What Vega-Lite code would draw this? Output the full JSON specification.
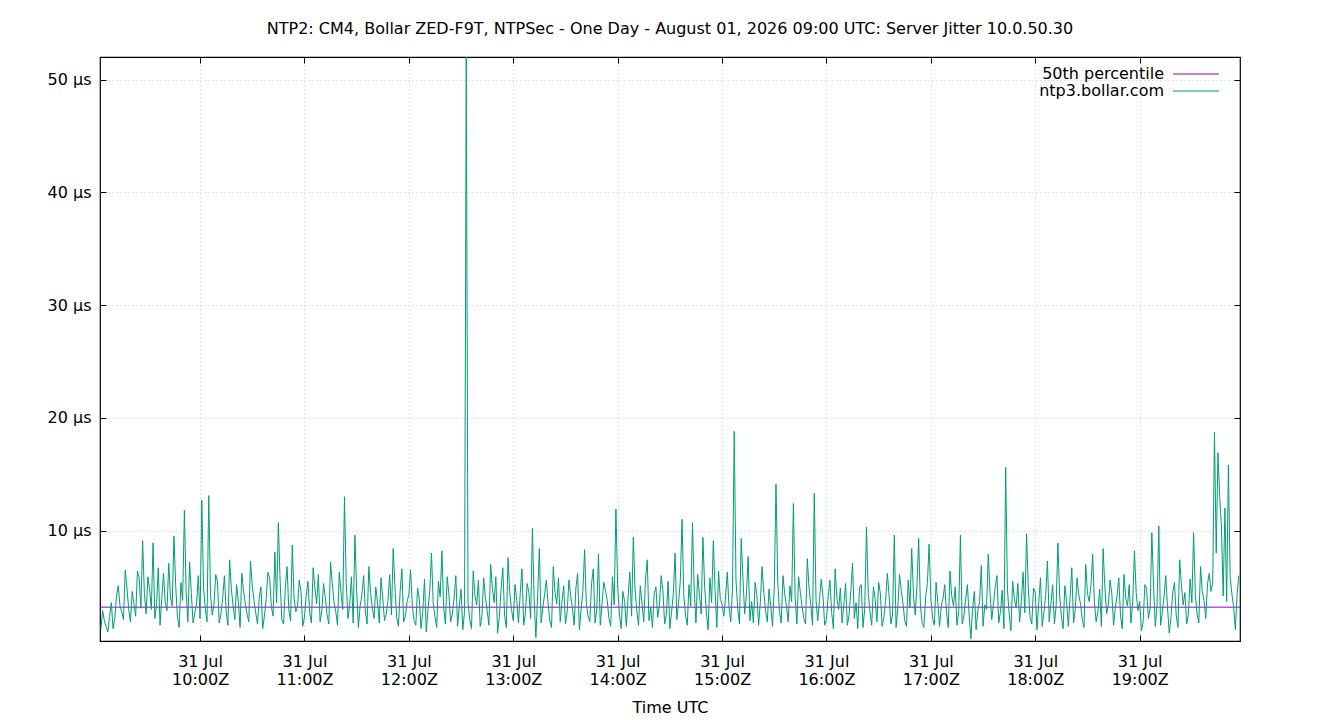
{
  "$schema": "https://vega.github.io/schema/vega-lite/v6.json",
  "autosize": {"type": "none"},
  "width": 1140,
  "height": 584,
  "padding": {"left": 100, "top": 57, "right": 100, "bottom": 79},
  "background": "white",
  "title": {
    "text": "NTP2: CM4, Bollar ZED-F9T, NTPSec - One Day - August 01, 2026 09:00 UTC: Server Jitter 10.0.50.30",
    "fontSize": 16, "fontWeight": "normal", "font": "DejaVu Sans", "color": "black",
    "anchor": "middle", "baseline": "alphabetic", "offset": 4
  },
  "config": {
    "font": "DejaVu Sans",
    "view": {"stroke": "black", "strokeWidth": 1.2},
    "axis": {
      "domain": false,
      "labelFontSize": 16, "labelColor": "black", "labelFont": "DejaVu Sans",
      "titleFontSize": 16, "titleColor": "black", "titleFont": "DejaVu Sans", "titleFontWeight": "normal",
      "tickColor": "black", "tickSize": -6, "tickWidth": 1,
      "gridColor": "#c4c4c4", "gridDash": [1, 3], "gridWidth": 1
    },
    "legend": {"labelFontSize": 16, "labelColor": "black", "labelFont": "DejaVu Sans"}
  },
  "datasets": {
    "median": [{"v": 3.2}],
    "jitter": [
      {"t":"2026-07-31T09:03","v":1.2},{"t":"2026-07-31T09:05","v":2.0},{"t":"2026-07-31T09:07","v":1.0},{"t":"2026-07-31T09:09","v":3.6},{"t":"2026-07-31T09:11","v":2.2},
      {"t":"2026-07-31T09:13","v":5.1},{"t":"2026-07-31T09:15","v":2.8},{"t":"2026-07-31T09:17","v":6.5},{"t":"2026-07-31T09:19","v":3.0},{"t":"2026-07-31T09:21","v":4.6},
      {"t":"2026-07-31T09:23","v":2.4},{"t":"2026-07-31T09:25","v":5.8},{"t":"2026-07-31T09:27","v":9.1},{"t":"2026-07-31T09:29","v":2.6},{"t":"2026-07-31T09:31","v":4.8},
      {"t":"2026-07-31T09:33","v":8.9},{"t":"2026-07-31T09:35","v":3.4},{"t":"2026-07-31T09:37","v":1.6},{"t":"2026-07-31T09:39","v":6.2},{"t":"2026-07-31T09:41","v":2.9},
      {"t":"2026-07-31T09:43","v":4.1},{"t":"2026-07-31T09:45","v":9.5},{"t":"2026-07-31T09:47","v":2.3},{"t":"2026-07-31T09:49","v":5.4},{"t":"2026-07-31T09:51","v":11.8},
      {"t":"2026-07-31T09:53","v":1.9},{"t":"2026-07-31T09:55","v":4.4},{"t":"2026-07-31T09:57","v":2.7},{"t":"2026-07-31T09:59","v":6.0},{"t":"2026-07-31T10:01","v":12.7},
      {"t":"2026-07-31T10:03","v":3.1},{"t":"2026-07-31T10:05","v":13.1},{"t":"2026-07-31T10:07","v":2.5},{"t":"2026-07-31T10:09","v":6.1},{"t":"2026-07-31T10:11","v":1.8},
      {"t":"2026-07-31T10:13","v":4.0},{"t":"2026-07-31T10:15","v":2.9},{"t":"2026-07-31T10:17","v":7.4},{"t":"2026-07-31T10:19","v":3.3},{"t":"2026-07-31T10:21","v":5.2},
      {"t":"2026-07-31T10:23","v":1.4},{"t":"2026-07-31T10:25","v":4.7},{"t":"2026-07-31T10:27","v":2.6},{"t":"2026-07-31T10:29","v":7.3},{"t":"2026-07-31T10:31","v":3.8},
      {"t":"2026-07-31T10:33","v":1.7},{"t":"2026-07-31T10:35","v":5.0},{"t":"2026-07-31T10:37","v":2.4},{"t":"2026-07-31T10:39","v":6.3},{"t":"2026-07-31T10:41","v":3.2},
      {"t":"2026-07-31T10:43","v":8.1},{"t":"2026-07-31T10:45","v":10.7},{"t":"2026-07-31T10:47","v":2.1},{"t":"2026-07-31T10:49","v":4.9},{"t":"2026-07-31T10:51","v":3.0},
      {"t":"2026-07-31T10:53","v":8.7},{"t":"2026-07-31T10:55","v":2.8},{"t":"2026-07-31T10:57","v":5.6},{"t":"2026-07-31T10:59","v":1.5},{"t":"2026-07-31T11:01","v":4.2},
      {"t":"2026-07-31T11:03","v":2.7},{"t":"2026-07-31T11:05","v":6.7},{"t":"2026-07-31T11:07","v":3.5},{"t":"2026-07-31T11:09","v":1.9},{"t":"2026-07-31T11:11","v":5.3},
      {"t":"2026-07-31T11:13","v":2.5},{"t":"2026-07-31T11:15","v":7.2},{"t":"2026-07-31T11:17","v":3.6},{"t":"2026-07-31T11:19","v":1.6},{"t":"2026-07-31T11:21","v":4.5},
      {"t":"2026-07-31T11:23","v":13.0},{"t":"2026-07-31T11:25","v":2.2},{"t":"2026-07-31T11:27","v":5.9},{"t":"2026-07-31T11:29","v":9.6},{"t":"2026-07-31T11:31","v":1.4},
      {"t":"2026-07-31T11:33","v":4.3},{"t":"2026-07-31T11:35","v":2.8},{"t":"2026-07-31T11:37","v":6.8},{"t":"2026-07-31T11:39","v":3.1},{"t":"2026-07-31T11:41","v":5.0},
      {"t":"2026-07-31T11:43","v":1.8},{"t":"2026-07-31T11:45","v":4.0},{"t":"2026-07-31T11:47","v":2.6},{"t":"2026-07-31T11:49","v":6.1},{"t":"2026-07-31T11:51","v":8.4},
      {"t":"2026-07-31T11:53","v":2.3},{"t":"2026-07-31T11:55","v":4.6},{"t":"2026-07-31T11:57","v":1.9},{"t":"2026-07-31T11:59","v":3.7},{"t":"2026-07-31T12:01","v":6.5},
      {"t":"2026-07-31T12:03","v":2.0},{"t":"2026-07-31T12:05","v":4.9},{"t":"2026-07-31T12:07","v":1.3},{"t":"2026-07-31T12:09","v":5.7},{"t":"2026-07-31T12:11","v":3.0},
      {"t":"2026-07-31T12:13","v":8.0},{"t":"2026-07-31T12:15","v":2.4},{"t":"2026-07-31T12:17","v":5.5},{"t":"2026-07-31T12:19","v":8.2},{"t":"2026-07-31T12:21","v":1.7},
      {"t":"2026-07-31T12:23","v":4.4},{"t":"2026-07-31T12:25","v":2.6},{"t":"2026-07-31T12:27","v":6.0},{"t":"2026-07-31T12:29","v":3.3},{"t":"2026-07-31T12:31","v":1.2},
      {"t":"2026-07-31T12:33","v":52.0},{"t":"2026-07-31T12:35","v":2.1},{"t":"2026-07-31T12:37","v":6.4},{"t":"2026-07-31T12:39","v":3.4},{"t":"2026-07-31T12:41","v":1.5},
      {"t":"2026-07-31T12:43","v":5.8},{"t":"2026-07-31T12:45","v":2.9},{"t":"2026-07-31T12:47","v":7.0},{"t":"2026-07-31T12:49","v":3.6},{"t":"2026-07-31T12:51","v":0.9},
      {"t":"2026-07-31T12:53","v":4.8},{"t":"2026-07-31T12:55","v":2.5},{"t":"2026-07-31T12:57","v":7.6},{"t":"2026-07-31T12:59","v":3.0},{"t":"2026-07-31T13:01","v":5.2},
      {"t":"2026-07-31T13:03","v":1.8},{"t":"2026-07-31T13:05","v":6.6},{"t":"2026-07-31T13:07","v":2.7},{"t":"2026-07-31T13:09","v":4.5},{"t":"2026-07-31T13:11","v":10.2},
      {"t":"2026-07-31T13:13","v":0.5},{"t":"2026-07-31T13:15","v":8.4},{"t":"2026-07-31T13:17","v":3.2},{"t":"2026-07-31T13:19","v":5.6},{"t":"2026-07-31T13:21","v":2.0},
      {"t":"2026-07-31T13:23","v":6.8},{"t":"2026-07-31T13:25","v":3.5},{"t":"2026-07-31T13:27","v":1.9},{"t":"2026-07-31T13:29","v":5.1},{"t":"2026-07-31T13:31","v":2.8},
      {"t":"2026-07-31T13:33","v":4.2},{"t":"2026-07-31T13:35","v":1.6},{"t":"2026-07-31T13:37","v":6.2},{"t":"2026-07-31T13:39","v":3.0},{"t":"2026-07-31T13:41","v":8.3},
      {"t":"2026-07-31T13:43","v":2.4},{"t":"2026-07-31T13:45","v":5.3},{"t":"2026-07-31T13:47","v":1.8},{"t":"2026-07-31T13:49","v":7.9},{"t":"2026-07-31T13:51","v":3.4},
      {"t":"2026-07-31T13:53","v":4.7},{"t":"2026-07-31T13:55","v":2.2},{"t":"2026-07-31T13:57","v":5.9},{"t":"2026-07-31T13:59","v":11.9},{"t":"2026-07-31T14:01","v":2.6},
      {"t":"2026-07-31T14:03","v":4.6},{"t":"2026-07-31T14:05","v":1.5},{"t":"2026-07-31T14:07","v":6.3},{"t":"2026-07-31T14:09","v":9.4},{"t":"2026-07-31T14:11","v":2.9},
      {"t":"2026-07-31T14:13","v":5.1},{"t":"2026-07-31T14:15","v":1.9},{"t":"2026-07-31T14:17","v":7.4},{"t":"2026-07-31T14:19","v":3.2},{"t":"2026-07-31T14:21","v":4.4},
      {"t":"2026-07-31T14:23","v":2.3},{"t":"2026-07-31T14:25","v":6.0},{"t":"2026-07-31T14:27","v":1.7},{"t":"2026-07-31T14:29","v":5.5},{"t":"2026-07-31T14:31","v":2.8},
      {"t":"2026-07-31T14:33","v":8.0},{"t":"2026-07-31T14:35","v":3.6},{"t":"2026-07-31T14:37","v":11.0},{"t":"2026-07-31T14:39","v":2.5},{"t":"2026-07-31T14:41","v":5.2},
      {"t":"2026-07-31T14:43","v":10.7},{"t":"2026-07-31T14:45","v":1.8},{"t":"2026-07-31T14:47","v":4.3},{"t":"2026-07-31T14:49","v":9.4},{"t":"2026-07-31T14:51","v":2.7},
      {"t":"2026-07-31T14:53","v":5.8},{"t":"2026-07-31T14:55","v":9.1},{"t":"2026-07-31T14:57","v":1.4},{"t":"2026-07-31T14:59","v":3.9},{"t":"2026-07-31T15:01","v":2.4},
      {"t":"2026-07-31T15:03","v":6.3},{"t":"2026-07-31T15:05","v":1.9},{"t":"2026-07-31T15:07","v":18.8},{"t":"2026-07-31T15:09","v":3.1},{"t":"2026-07-31T15:11","v":9.3},
      {"t":"2026-07-31T15:13","v":2.6},{"t":"2026-07-31T15:15","v":7.7},{"t":"2026-07-31T15:17","v":3.7},{"t":"2026-07-31T15:19","v":5.4},{"t":"2026-07-31T15:21","v":1.6},
      {"t":"2026-07-31T15:23","v":6.8},{"t":"2026-07-31T15:25","v":2.9},{"t":"2026-07-31T15:27","v":4.8},{"t":"2026-07-31T15:29","v":1.5},{"t":"2026-07-31T15:31","v":14.1},
      {"t":"2026-07-31T15:33","v":2.8},{"t":"2026-07-31T15:35","v":6.0},{"t":"2026-07-31T15:37","v":3.3},{"t":"2026-07-31T15:39","v":5.1},{"t":"2026-07-31T15:41","v":12.4},
      {"t":"2026-07-31T15:43","v":1.7},{"t":"2026-07-31T15:45","v":4.5},{"t":"2026-07-31T15:47","v":2.2},{"t":"2026-07-31T15:49","v":7.5},{"t":"2026-07-31T15:51","v":3.4},
      {"t":"2026-07-31T15:53","v":13.3},{"t":"2026-07-31T15:55","v":2.0},{"t":"2026-07-31T15:57","v":5.7},{"t":"2026-07-31T15:59","v":1.6},{"t":"2026-07-31T16:01","v":4.2},
      {"t":"2026-07-31T16:03","v":2.7},{"t":"2026-07-31T16:05","v":6.6},{"t":"2026-07-31T16:07","v":3.0},{"t":"2026-07-31T16:09","v":1.8},{"t":"2026-07-31T16:11","v":5.3},
      {"t":"2026-07-31T16:13","v":2.5},{"t":"2026-07-31T16:15","v":7.1},{"t":"2026-07-31T16:17","v":3.6},{"t":"2026-07-31T16:19","v":4.9},{"t":"2026-07-31T16:21","v":1.4},
      {"t":"2026-07-31T16:23","v":10.3},{"t":"2026-07-31T16:25","v":2.8},{"t":"2026-07-31T16:27","v":5.0},{"t":"2026-07-31T16:29","v":1.9},{"t":"2026-07-31T16:31","v":4.4},
      {"t":"2026-07-31T16:33","v":2.3},{"t":"2026-07-31T16:35","v":6.2},{"t":"2026-07-31T16:37","v":1.7},{"t":"2026-07-31T16:39","v":9.6},{"t":"2026-07-31T16:41","v":3.1},
      {"t":"2026-07-31T16:43","v":4.7},{"t":"2026-07-31T16:45","v":2.0},{"t":"2026-07-31T16:47","v":5.6},{"t":"2026-07-31T16:49","v":8.4},{"t":"2026-07-31T16:51","v":2.5},
      {"t":"2026-07-31T16:53","v":9.3},{"t":"2026-07-31T16:55","v":1.8},{"t":"2026-07-31T16:57","v":4.1},{"t":"2026-07-31T16:59","v":8.8},{"t":"2026-07-31T17:01","v":2.2},
      {"t":"2026-07-31T17:03","v":5.4},{"t":"2026-07-31T17:05","v":1.5},{"t":"2026-07-31T17:07","v":4.0},{"t":"2026-07-31T17:09","v":2.7},{"t":"2026-07-31T17:11","v":6.4},
      {"t":"2026-07-31T17:13","v":3.3},{"t":"2026-07-31T17:15","v":1.6},{"t":"2026-07-31T17:17","v":9.6},{"t":"2026-07-31T17:19","v":2.4},{"t":"2026-07-31T17:21","v":5.2},
      {"t":"2026-07-31T17:23","v":0.4},{"t":"2026-07-31T17:25","v":4.6},{"t":"2026-07-31T17:27","v":2.9},{"t":"2026-07-31T17:29","v":6.9},{"t":"2026-07-31T17:31","v":3.4},
      {"t":"2026-07-31T17:33","v":7.9},{"t":"2026-07-31T17:35","v":2.1},{"t":"2026-07-31T17:37","v":5.0},{"t":"2026-07-31T17:39","v":1.8},{"t":"2026-07-31T17:41","v":4.7},
      {"t":"2026-07-31T17:43","v":15.6},{"t":"2026-07-31T17:45","v":2.6},{"t":"2026-07-31T17:47","v":5.5},{"t":"2026-07-31T17:49","v":3.2},{"t":"2026-07-31T17:51","v":1.9},
      {"t":"2026-07-31T17:53","v":6.3},{"t":"2026-07-31T17:55","v":9.7},{"t":"2026-07-31T17:57","v":2.3},{"t":"2026-07-31T17:59","v":4.9},{"t":"2026-07-31T18:01","v":1.2},
      {"t":"2026-07-31T18:03","v":5.8},{"t":"2026-07-31T18:05","v":2.8},{"t":"2026-07-31T18:07","v":7.3},{"t":"2026-07-31T18:09","v":3.5},{"t":"2026-07-31T18:11","v":1.7},
      {"t":"2026-07-31T18:13","v":8.9},{"t":"2026-07-31T18:15","v":2.4},{"t":"2026-07-31T18:17","v":5.1},{"t":"2026-07-31T18:19","v":1.5},{"t":"2026-07-31T18:21","v":6.7},
      {"t":"2026-07-31T18:23","v":3.0},{"t":"2026-07-31T18:25","v":4.3},{"t":"2026-07-31T18:27","v":2.1},{"t":"2026-07-31T18:29","v":7.0},{"t":"2026-07-31T18:31","v":3.7},
      {"t":"2026-07-31T18:33","v":7.9},{"t":"2026-07-31T18:35","v":1.9},{"t":"2026-07-31T18:37","v":4.8},{"t":"2026-07-31T18:39","v":8.4},{"t":"2026-07-31T18:41","v":2.6},
      {"t":"2026-07-31T18:43","v":5.6},{"t":"2026-07-31T18:45","v":1.6},{"t":"2026-07-31T18:47","v":4.2},{"t":"2026-07-31T18:49","v":2.4},{"t":"2026-07-31T18:51","v":6.1},
      {"t":"2026-07-31T18:53","v":3.3},{"t":"2026-07-31T18:55","v":1.8},{"t":"2026-07-31T18:57","v":8.2},{"t":"2026-07-31T18:59","v":2.9},{"t":"2026-07-31T19:01","v":1.1},
      {"t":"2026-07-31T19:03","v":5.2},{"t":"2026-07-31T19:05","v":2.2},{"t":"2026-07-31T19:07","v":9.8},{"t":"2026-07-31T19:09","v":1.5},{"t":"2026-07-31T19:11","v":10.4},
      {"t":"2026-07-31T19:13","v":2.7},{"t":"2026-07-31T19:15","v":6.0},{"t":"2026-07-31T19:17","v":0.9},{"t":"2026-07-31T19:19","v":4.5},{"t":"2026-07-31T19:21","v":2.5},
      {"t":"2026-07-31T19:23","v":7.4},{"t":"2026-07-31T19:25","v":3.4},{"t":"2026-07-31T19:27","v":1.7},{"t":"2026-07-31T19:29","v":5.7},{"t":"2026-07-31T19:31","v":9.8},
      {"t":"2026-07-31T19:33","v":2.6},{"t":"2026-07-31T19:35","v":6.8},{"t":"2026-07-31T19:37","v":3.8},{"t":"2026-07-31T19:39","v":5.3},{"t":"2026-07-31T19:41","v":4.6},
      {"t":"2026-07-31T19:43","v":18.7},{"t":"2026-07-31T19:45","v":16.9},{"t":"2026-07-31T19:47","v":10.3},{"t":"2026-07-31T19:49","v":12.0},{"t":"2026-07-31T19:51","v":15.8},
      {"t":"2026-07-31T19:53","v":4.4},{"t":"2026-07-31T19:55","v":1.2},{"t":"2026-07-31T19:57","v":6.0},
      {"t":"2026-07-31T09:04","v":2.9},{"t":"2026-07-31T09:06","v":1.5},{"t":"2026-07-31T09:08","v":2.4},{"t":"2026-07-31T09:10","v":1.3},{"t":"2026-07-31T09:12","v":4.2},
      {"t":"2026-07-31T09:14","v":3.3},{"t":"2026-07-31T09:16","v":2.1},{"t":"2026-07-31T09:18","v":4.9},{"t":"2026-07-31T09:20","v":1.9},{"t":"2026-07-31T09:22","v":3.5},
      {"t":"2026-07-31T09:24","v":6.4},{"t":"2026-07-31T09:26","v":3.1},{"t":"2026-07-31T09:28","v":4.4},{"t":"2026-07-31T09:30","v":5.9},{"t":"2026-07-31T09:32","v":3.0},
      {"t":"2026-07-31T09:34","v":2.2},{"t":"2026-07-31T09:36","v":6.7},{"t":"2026-07-31T09:38","v":4.0},{"t":"2026-07-31T09:40","v":3.6},{"t":"2026-07-31T09:42","v":7.1},
      {"t":"2026-07-31T09:44","v":3.3},{"t":"2026-07-31T09:46","v":5.1},{"t":"2026-07-31T09:48","v":1.4},{"t":"2026-07-31T09:50","v":3.8},{"t":"2026-07-31T09:52","v":4.6},
      {"t":"2026-07-31T09:54","v":7.2},{"t":"2026-07-31T09:56","v":1.8},{"t":"2026-07-31T09:58","v":3.5},{"t":"2026-07-31T10:00","v":2.2},{"t":"2026-07-31T10:02","v":5.0},
      {"t":"2026-07-31T10:04","v":1.9},{"t":"2026-07-31T10:06","v":4.4},{"t":"2026-07-31T10:08","v":3.4},{"t":"2026-07-31T10:10","v":5.5},{"t":"2026-07-31T10:12","v":2.6},
      {"t":"2026-07-31T10:14","v":6.0},{"t":"2026-07-31T10:16","v":1.6},{"t":"2026-07-31T10:18","v":4.8},{"t":"2026-07-31T10:20","v":2.1},{"t":"2026-07-31T10:22","v":3.7},
      {"t":"2026-07-31T10:24","v":6.2},{"t":"2026-07-31T10:26","v":3.5},{"t":"2026-07-31T10:28","v":1.9},{"t":"2026-07-31T10:30","v":5.1},{"t":"2026-07-31T10:32","v":2.7},
      {"t":"2026-07-31T10:34","v":4.0},{"t":"2026-07-31T10:36","v":1.3},{"t":"2026-07-31T10:38","v":3.9},{"t":"2026-07-31T10:40","v":5.8},{"t":"2026-07-31T10:42","v":2.4},
      {"t":"2026-07-31T10:44","v":3.6},{"t":"2026-07-31T10:46","v":5.6},{"t":"2026-07-31T10:48","v":1.7},{"t":"2026-07-31T10:50","v":6.8},{"t":"2026-07-31T10:52","v":2.0},
      {"t":"2026-07-31T10:54","v":4.1},{"t":"2026-07-31T10:56","v":3.2},{"t":"2026-07-31T10:58","v":4.6},{"t":"2026-07-31T11:00","v":2.3},{"t":"2026-07-31T11:02","v":5.5},
      {"t":"2026-07-31T11:04","v":1.8},{"t":"2026-07-31T11:06","v":4.9},{"t":"2026-07-31T11:08","v":6.1},{"t":"2026-07-31T11:10","v":2.9},{"t":"2026-07-31T11:12","v":4.0},
      {"t":"2026-07-31T11:14","v":1.7},{"t":"2026-07-31T11:16","v":5.3},{"t":"2026-07-31T11:18","v":2.8},{"t":"2026-07-31T11:20","v":6.3},{"t":"2026-07-31T11:22","v":3.0},
      {"t":"2026-07-31T11:24","v":5.4},{"t":"2026-07-31T11:26","v":3.4},{"t":"2026-07-31T11:28","v":1.8},{"t":"2026-07-31T11:30","v":4.7},{"t":"2026-07-31T11:32","v":3.3},
      {"t":"2026-07-31T11:34","v":6.0},{"t":"2026-07-31T11:36","v":1.7},{"t":"2026-07-31T11:38","v":4.5},{"t":"2026-07-31T11:40","v":2.2},{"t":"2026-07-31T11:42","v":3.6},
      {"t":"2026-07-31T11:44","v":5.8},{"t":"2026-07-31T11:46","v":2.0},{"t":"2026-07-31T11:48","v":3.8},{"t":"2026-07-31T11:50","v":2.5},{"t":"2026-07-31T11:52","v":5.0},
      {"t":"2026-07-31T11:54","v":1.5},{"t":"2026-07-31T11:56","v":6.6},{"t":"2026-07-31T11:58","v":2.4},{"t":"2026-07-31T12:00","v":4.3},{"t":"2026-07-31T12:02","v":3.3},
      {"t":"2026-07-31T12:04","v":1.6},{"t":"2026-07-31T12:06","v":3.9},{"t":"2026-07-31T12:08","v":2.8},{"t":"2026-07-31T12:10","v":1.0},{"t":"2026-07-31T12:12","v":4.6},
      {"t":"2026-07-31T12:14","v":3.5},{"t":"2026-07-31T12:16","v":1.4},{"t":"2026-07-31T12:18","v":4.1},{"t":"2026-07-31T12:20","v":3.2},{"t":"2026-07-31T12:22","v":5.9},
      {"t":"2026-07-31T12:24","v":1.9},{"t":"2026-07-31T12:26","v":4.0},{"t":"2026-07-31T12:28","v":1.5},{"t":"2026-07-31T12:30","v":4.8},{"t":"2026-07-31T12:32","v":2.8},
      {"t":"2026-07-31T12:34","v":3.6},{"t":"2026-07-31T12:36","v":1.3},{"t":"2026-07-31T12:38","v":4.2},{"t":"2026-07-31T12:40","v":5.6},{"t":"2026-07-31T12:42","v":2.4},
      {"t":"2026-07-31T12:44","v":4.0},{"t":"2026-07-31T12:46","v":1.6},{"t":"2026-07-31T12:48","v":4.9},{"t":"2026-07-31T12:50","v":5.9},{"t":"2026-07-31T12:52","v":2.3},
      {"t":"2026-07-31T12:54","v":6.7},{"t":"2026-07-31T12:56","v":1.4},{"t":"2026-07-31T12:58","v":4.5},{"t":"2026-07-31T13:00","v":2.0},{"t":"2026-07-31T13:02","v":3.8},
      {"t":"2026-07-31T13:04","v":4.4},{"t":"2026-07-31T13:06","v":1.6},{"t":"2026-07-31T13:08","v":5.3},{"t":"2026-07-31T13:10","v":2.2},{"t":"2026-07-31T13:12","v":3.9},
      {"t":"2026-07-31T13:14","v":4.1},{"t":"2026-07-31T13:16","v":1.8},{"t":"2026-07-31T13:18","v":4.3},{"t":"2026-07-31T13:20","v":3.6},{"t":"2026-07-31T13:22","v":1.4},
      {"t":"2026-07-31T13:24","v":4.5},{"t":"2026-07-31T13:26","v":5.8},{"t":"2026-07-31T13:28","v":3.7},{"t":"2026-07-31T13:30","v":1.7},{"t":"2026-07-31T13:32","v":5.6},
      {"t":"2026-07-31T13:34","v":3.1},{"t":"2026-07-31T13:36","v":4.9},{"t":"2026-07-31T13:38","v":1.2},{"t":"2026-07-31T13:40","v":4.6},{"t":"2026-07-31T13:42","v":3.5},
      {"t":"2026-07-31T13:44","v":1.9},{"t":"2026-07-31T13:46","v":6.6},{"t":"2026-07-31T13:48","v":3.0},{"t":"2026-07-31T13:50","v":1.6},{"t":"2026-07-31T13:52","v":5.4},
      {"t":"2026-07-31T13:54","v":3.8},{"t":"2026-07-31T13:56","v":1.5},{"t":"2026-07-31T13:58","v":3.4},{"t":"2026-07-31T14:00","v":5.0},{"t":"2026-07-31T14:02","v":1.3},
      {"t":"2026-07-31T14:04","v":3.7},{"t":"2026-07-31T14:06","v":4.1},{"t":"2026-07-31T14:08","v":2.4},{"t":"2026-07-31T14:10","v":4.8},{"t":"2026-07-31T14:12","v":1.6},
      {"t":"2026-07-31T14:14","v":3.6},{"t":"2026-07-31T14:16","v":5.7},{"t":"2026-07-31T14:18","v":2.0},{"t":"2026-07-31T14:20","v":1.4},{"t":"2026-07-31T14:22","v":5.0},
      {"t":"2026-07-31T14:24","v":3.4},{"t":"2026-07-31T14:26","v":4.7},{"t":"2026-07-31T14:28","v":2.6},{"t":"2026-07-31T14:30","v":1.3},{"t":"2026-07-31T14:32","v":4.4},
      {"t":"2026-07-31T14:34","v":2.1},{"t":"2026-07-31T14:36","v":5.5},{"t":"2026-07-31T14:38","v":4.3},{"t":"2026-07-31T14:40","v":1.6},{"t":"2026-07-31T14:42","v":3.3},
      {"t":"2026-07-31T14:44","v":4.8},{"t":"2026-07-31T14:46","v":6.1},{"t":"2026-07-31T14:48","v":2.6},{"t":"2026-07-31T14:50","v":5.0},{"t":"2026-07-31T14:52","v":1.2},
      {"t":"2026-07-31T14:54","v":3.6},{"t":"2026-07-31T14:56","v":4.6},{"t":"2026-07-31T14:58","v":6.4},{"t":"2026-07-31T15:00","v":3.5},{"t":"2026-07-31T15:02","v":4.1},
      {"t":"2026-07-31T15:04","v":3.2},{"t":"2026-07-31T15:06","v":4.8},{"t":"2026-07-31T15:08","v":5.6},{"t":"2026-07-31T15:10","v":1.7},{"t":"2026-07-31T15:12","v":5.8},
      {"t":"2026-07-31T15:14","v":4.3},{"t":"2026-07-31T15:16","v":2.0},{"t":"2026-07-31T15:18","v":1.8},{"t":"2026-07-31T15:20","v":4.3},{"t":"2026-07-31T15:22","v":3.6},
      {"t":"2026-07-31T15:24","v":4.5},{"t":"2026-07-31T15:26","v":1.9},{"t":"2026-07-31T15:28","v":3.3},{"t":"2026-07-31T15:30","v":4.9},{"t":"2026-07-31T15:32","v":5.5},
      {"t":"2026-07-31T15:34","v":1.8},{"t":"2026-07-31T15:36","v":4.4},{"t":"2026-07-31T15:38","v":1.9},{"t":"2026-07-31T15:40","v":3.7},{"t":"2026-07-31T15:42","v":4.0},
      {"t":"2026-07-31T15:44","v":5.9},{"t":"2026-07-31T15:46","v":3.2},{"t":"2026-07-31T15:48","v":1.7},{"t":"2026-07-31T15:50","v":4.9},{"t":"2026-07-31T15:52","v":1.6},
      {"t":"2026-07-31T15:54","v":3.8},{"t":"2026-07-31T15:56","v":3.9},{"t":"2026-07-31T15:58","v":4.2},{"t":"2026-07-31T16:00","v":2.1},{"t":"2026-07-31T16:02","v":5.6},
      {"t":"2026-07-31T16:04","v":1.3},{"t":"2026-07-31T16:06","v":4.0},{"t":"2026-07-31T16:08","v":4.9},{"t":"2026-07-31T16:10","v":3.4},{"t":"2026-07-31T16:12","v":1.6},
      {"t":"2026-07-31T16:14","v":4.6},{"t":"2026-07-31T16:16","v":2.2},{"t":"2026-07-31T16:18","v":1.3},{"t":"2026-07-31T16:20","v":5.2},{"t":"2026-07-31T16:22","v":3.1},
      {"t":"2026-07-31T16:24","v":4.5},{"t":"2026-07-31T16:26","v":1.6},{"t":"2026-07-31T16:28","v":3.9},{"t":"2026-07-31T16:30","v":5.4},{"t":"2026-07-31T16:32","v":1.5},
      {"t":"2026-07-31T16:34","v":3.8},{"t":"2026-07-31T16:36","v":4.2},{"t":"2026-07-31T16:38","v":2.6},{"t":"2026-07-31T16:40","v":1.4},{"t":"2026-07-31T16:42","v":6.1},
      {"t":"2026-07-31T16:44","v":3.5},{"t":"2026-07-31T16:46","v":1.5},{"t":"2026-07-31T16:48","v":3.2},{"t":"2026-07-31T16:50","v":4.3},{"t":"2026-07-31T16:52","v":5.1},
      {"t":"2026-07-31T16:54","v":3.4},{"t":"2026-07-31T16:56","v":1.4},{"t":"2026-07-31T16:58","v":5.3},{"t":"2026-07-31T17:00","v":4.0},{"t":"2026-07-31T17:02","v":1.6},
      {"t":"2026-07-31T17:04","v":3.6},{"t":"2026-07-31T17:06","v":3.3},{"t":"2026-07-31T17:08","v":5.2},{"t":"2026-07-31T17:10","v":1.4},{"t":"2026-07-31T17:12","v":4.2},
      {"t":"2026-07-31T17:14","v":5.0},{"t":"2026-07-31T17:16","v":2.8},{"t":"2026-07-31T17:18","v":1.7},{"t":"2026-07-31T17:20","v":3.9},{"t":"2026-07-31T17:22","v":2.5},
      {"t":"2026-07-31T17:24","v":3.1},{"t":"2026-07-31T17:26","v":1.2},{"t":"2026-07-31T17:28","v":3.7},{"t":"2026-07-31T17:30","v":1.5},{"t":"2026-07-31T17:32","v":3.0},
      {"t":"2026-07-31T17:34","v":4.5},{"t":"2026-07-31T17:36","v":3.5},{"t":"2026-07-31T17:38","v":6.0},{"t":"2026-07-31T17:40","v":2.8},{"t":"2026-07-31T17:42","v":1.3},
      {"t":"2026-07-31T17:44","v":4.8},{"t":"2026-07-31T17:46","v":1.1},{"t":"2026-07-31T17:48","v":3.9},{"t":"2026-07-31T17:50","v":5.3},{"t":"2026-07-31T17:52","v":3.7},
      {"t":"2026-07-31T17:54","v":2.7},{"t":"2026-07-31T17:56","v":4.9},{"t":"2026-07-31T17:58","v":1.7},{"t":"2026-07-31T18:00","v":4.5},{"t":"2026-07-31T18:02","v":3.6},
      {"t":"2026-07-31T18:04","v":1.5},{"t":"2026-07-31T18:06","v":4.3},{"t":"2026-07-31T18:08","v":1.9},{"t":"2026-07-31T18:10","v":5.2},{"t":"2026-07-31T18:12","v":3.3},
      {"t":"2026-07-31T18:14","v":4.3},{"t":"2026-07-31T18:16","v":1.3},{"t":"2026-07-31T18:18","v":3.7},{"t":"2026-07-31T18:20","v":4.0},{"t":"2026-07-31T18:22","v":1.8},
      {"t":"2026-07-31T18:24","v":5.8},{"t":"2026-07-31T18:26","v":3.5},{"t":"2026-07-31T18:28","v":1.4},{"t":"2026-07-31T18:30","v":4.4},{"t":"2026-07-31T18:32","v":5.2},
      {"t":"2026-07-31T18:34","v":3.6},{"t":"2026-07-31T18:36","v":2.8},{"t":"2026-07-31T18:38","v":1.5},{"t":"2026-07-31T18:40","v":5.0},{"t":"2026-07-31T18:42","v":3.4},
      {"t":"2026-07-31T18:44","v":4.4},{"t":"2026-07-31T18:46","v":3.1},{"t":"2026-07-31T18:48","v":5.8},{"t":"2026-07-31T18:50","v":1.3},{"t":"2026-07-31T18:52","v":4.0},
      {"t":"2026-07-31T18:54","v":5.2},{"t":"2026-07-31T18:56","v":3.6},{"t":"2026-07-31T18:58","v":4.5},{"t":"2026-07-31T19:00","v":3.7},{"t":"2026-07-31T19:02","v":1.9},
      {"t":"2026-07-31T19:04","v":4.8},{"t":"2026-07-31T19:06","v":3.1},{"t":"2026-07-31T19:08","v":5.0},{"t":"2026-07-31T19:10","v":3.4},{"t":"2026-07-31T19:12","v":1.6},
      {"t":"2026-07-31T19:14","v":4.1},{"t":"2026-07-31T19:16","v":3.2},{"t":"2026-07-31T19:18","v":2.3},{"t":"2026-07-31T19:20","v":5.4},{"t":"2026-07-31T19:22","v":1.4},
      {"t":"2026-07-31T19:24","v":5.2},{"t":"2026-07-31T19:26","v":4.5},{"t":"2026-07-31T19:28","v":2.6},{"t":"2026-07-31T19:30","v":3.6},{"t":"2026-07-31T19:32","v":4.3},
      {"t":"2026-07-31T19:34","v":1.8},{"t":"2026-07-31T19:36","v":4.6},{"t":"2026-07-31T19:38","v":2.2},{"t":"2026-07-31T19:40","v":6.2},{"t":"2026-07-31T19:42","v":5.4},
      {"t":"2026-07-31T19:44","v":8.0},{"t":"2026-07-31T19:46","v":13.0},{"t":"2026-07-31T19:48","v":4.2},{"t":"2026-07-31T19:50","v":3.7},{"t":"2026-07-31T19:52","v":5.9},
      {"t":"2026-07-31T19:54","v":3.2},{"t":"2026-07-31T19:56","v":4.4}
    ]
  },
  "resolve": {"axis": {"x": "independent", "y": "independent"}},
  "layer": [
    {
      "data": {"name": "median"},
      "mark": {"type": "rule", "strokeWidth": 1},
      "encoding": {
        "y": {
          "field": "v", "type": "quantitative",
          "scale": {"domain": [0.2, 52], "nice": false, "zero": false},
          "axis": {
            "orient": "left", "values": [10, 20, 30, 40, 50],
            "labelExpr": "datum.value + ' µs'", "labelPadding": 15, "title": null, "grid": true
          }
        },
        "color": {
          "datum": "50th percentile",
          "scale": {"domain": ["50th percentile", "ntp3.bollar.com"], "range": ["#9400d3", "#009e73"]},
          "legend": {
            "title": " ", "titleOrient": "right", "titleFontSize": 1, "titlePadding": 10,
            "orient": "top-right", "offset": 9,
            "symbolType": "M-4.6,0H4.6", "symbolSize": 100, "symbolStrokeWidth": 1,
            "labelAlign": "right", "labelOffset": -40, "rowPadding": 1, "labelLimit": 300,
            "encode": {
              "symbols": {
                "update": {
                  "stroke": {"scale": "color", "field": "value"},
                  "fill": {"value": "transparent"},
                  "strokeWidth": {"value": 1}
                }
              }
            }
          }
        }
      }
    },
    {
      "data": {"name": "jitter"},
      "mark": {"type": "line", "strokeWidth": 1, "clip": true},
      "encoding": {
        "x": {
          "field": "t", "type": "temporal",
          "scale": {"domain": [
            {"year": 2026, "month": 7, "date": 31, "hours": 9, "minutes": 2, "seconds": 30},
            {"year": 2026, "month": 7, "date": 31, "hours": 19, "minutes": 57, "seconds": 40}
          ]},
          "axis": {
            "orient": "bottom", "title": "Time UTC", "grid": true,
            "values": [
              {"year": 2026, "month": 7, "date": 31, "hours": 10},
              {"year": 2026, "month": 7, "date": 31, "hours": 11},
              {"year": 2026, "month": 7, "date": 31, "hours": 12},
              {"year": 2026, "month": 7, "date": 31, "hours": 13},
              {"year": 2026, "month": 7, "date": 31, "hours": 14},
              {"year": 2026, "month": 7, "date": 31, "hours": 15},
              {"year": 2026, "month": 7, "date": 31, "hours": 16},
              {"year": 2026, "month": 7, "date": 31, "hours": 17},
              {"year": 2026, "month": 7, "date": 31, "hours": 18},
              {"year": 2026, "month": 7, "date": 31, "hours": 19}
            ],
            "labelExpr": "[timeFormat(datum.value, '%d %b'), timeFormat(datum.value, '%H:%MZ')]",
            "labelLineHeight": 18, "labelPadding": 18, "titlePadding": 12
          }
        },
        "y": {
          "field": "v", "type": "quantitative",
          "axis": {"orient": "right", "values": [10, 20, 30, 40, 50], "labels": false, "grid": false, "title": null}
        },
        "color": {"datum": "ntp3.bollar.com"}
      }
    },
    {
      "data": {"name": "jitter"},
      "mark": {"type": "point", "opacity": 0},
      "encoding": {
        "x": {
          "field": "t", "type": "temporal",
          "axis": {
            "orient": "top", "labels": false, "grid": false, "title": null,
            "values": [
              {"year": 2026, "month": 7, "date": 31, "hours": 10},
              {"year": 2026, "month": 7, "date": 31, "hours": 11},
              {"year": 2026, "month": 7, "date": 31, "hours": 12},
              {"year": 2026, "month": 7, "date": 31, "hours": 13},
              {"year": 2026, "month": 7, "date": 31, "hours": 14},
              {"year": 2026, "month": 7, "date": 31, "hours": 15},
              {"year": 2026, "month": 7, "date": 31, "hours": 16},
              {"year": 2026, "month": 7, "date": 31, "hours": 17},
              {"year": 2026, "month": 7, "date": 31, "hours": 18},
              {"year": 2026, "month": 7, "date": 31, "hours": 19}
            ]
          }
        },
        "y": {"field": "v", "type": "quantitative", "axis": null}
      }
    }
  ]
}
